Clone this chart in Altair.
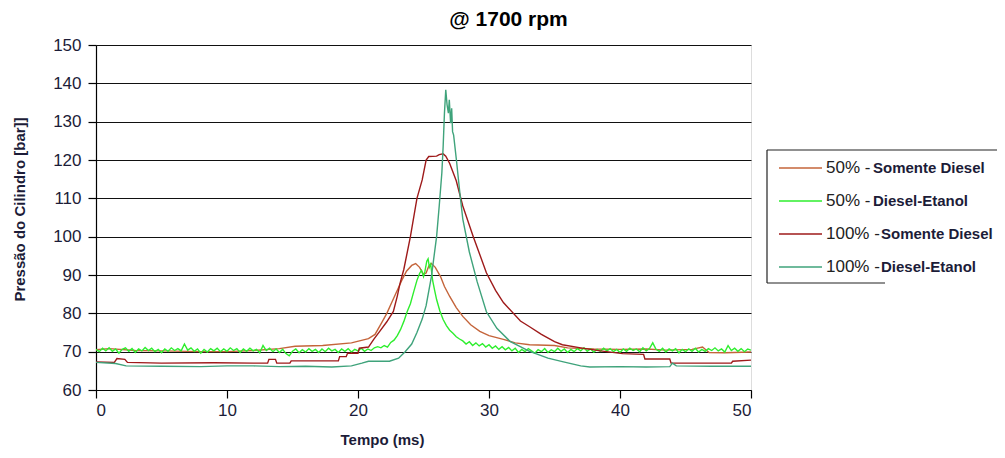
import altair as alt
import pandas as pd

FONT = "Liberation Sans"
TXT = "#1c1c38"

# ---------------- data ----------------
# 50% - Somente Diesel (orange-brown)
sd50_t = [0, 1.0, 3.0, 5.0, 8.0, 10.0, 12.0, 14.0, 15.2, 17.3, 19.5, 20.8, 21.3, 21.8, 22.2,
          22.6, 23.0, 23.4, 23.7, 24.1, 24.4, 24.7, 25.0, 25.2, 25.4, 25.6, 25.9, 26.3, 26.6,
          27.0, 27.5, 28.0, 28.6, 29.3, 30.0, 31.1, 32.0, 33.1, 35.0, 36.0, 38.0, 40.0, 42.0,
          43.5, 45.5, 46.3, 46.8, 48.0, 50.0]
sd50_p = [70.5, 70.8, 70.3, 70.2, 70.0, 70.0, 70.3, 70.8, 71.4, 71.6, 72.3, 73.4, 74.5, 77.5, 80.0,
          83.0, 86.0, 89.0, 91.0, 92.5, 93.0, 92.0, 90.2, 90.5, 92.3, 93.0, 92.0, 89.6, 87.0,
          84.4, 81.5, 79.2, 77.0, 75.3, 74.2, 73.2, 72.3, 71.8, 71.6, 71.0, 70.7, 70.6, 70.7,
          70.4, 70.6, 71.2, 69.8, 69.7, 69.9]

# 50% - Diesel-Etanol (bright green, noisy)
de50_a_start = 0.0
de50_a_step = 0.25
de50_a_p = [70.6,
            70.0, 70.9, 70.2, 71.0, 70.1, 70.7, 69.6, 70.6, 71.0, 70.1, 70.8, 69.8,
            70.7, 70.2, 71.1, 70.3, 70.9, 70.0, 70.6, 69.7, 70.7, 70.1, 71.0, 70.3,
            70.8, 70.2, 72.0, 70.4, 71.0, 70.1, 70.7, 69.6, 70.6, 69.9, 70.8, 70.2,
            70.9, 70.0, 70.7, 70.1, 71.0, 70.3, 70.8, 69.8, 70.7, 70.1, 70.9, 70.2,
            70.6, 69.7, 71.6, 70.3, 70.9, 70.0, 70.7, 69.8, 70.6, 69.5, 68.9, 70.1,
            70.7, 69.7, 70.5, 69.9, 70.8, 70.1, 70.6, 69.8, 70.7, 70.0, 70.9, 70.2,
            70.6, 69.8, 70.7, 70.1, 70.8, 69.9, 70.6, 70.2, 70.9, 70.1, 70.7, 70.3,
            71.0, 71.3]
de50_b_t = [21.75, 22.0, 22.25, 22.5, 22.75, 23.0, 23.25, 23.5, 23.75, 24.0, 24.25, 24.5, 24.7,
            24.85, 25.0, 25.1, 25.25, 25.35, 25.45, 25.55, 25.7, 25.85, 26.0, 26.25, 26.5,
            26.75, 27.0, 27.25, 27.5, 27.75, 28.0]
de50_b_p = [71.0, 71.6, 71.2, 72.4, 73.0, 74.2, 75.8, 77.9, 80.4, 82.5, 85.6, 88.6, 90.4,
            91.2, 89.6, 90.8, 93.6, 94.2, 92.0, 92.8, 88.5, 86.0, 83.6, 80.6, 78.4,
            76.8, 75.6, 74.8, 73.9, 73.3, 72.8]
de50_c_start = 28.25
de50_c_step = 0.25
de50_c_p = [72.0, 72.6, 71.6, 72.3, 71.5, 72.1, 71.2, 71.8, 70.9, 71.5, 70.6, 71.3,
            70.5, 71.1, 70.2, 70.9, 69.8, 70.6, 70.0, 70.8, 70.2, 69.6, 70.5, 70.0,
            70.8, 69.8, 70.5, 70.0, 70.9, 70.1, 70.7, 69.8, 70.6, 70.0, 70.8, 70.2,
            71.0, 70.1, 70.7, 69.9, 70.6, 70.1, 70.9, 70.2, 70.8, 70.0, 70.6, 69.8,
            70.7, 70.1, 70.9, 70.3, 70.7, 70.0, 71.0, 70.2, 70.8, 72.3, 70.6, 70.1,
            70.9, 69.9, 70.7, 70.2, 70.8, 69.7, 70.6, 70.0, 70.7, 70.1, 70.9, 69.9,
            70.6, 70.1, 70.8, 70.3, 71.0, 70.2, 70.7, 69.9, 71.6, 70.3, 70.9, 70.1,
            70.8, 70.0, 70.7, 70.4]

# 100% - Somente Diesel (dark red)
sd100_t = [0, 1.4, 1.6, 2.2, 2.4, 5.0, 9.0, 12.0, 13.1, 13.2, 13.7, 13.8, 14.8, 14.9, 18.5,
           18.6, 19.1, 19.2, 20.0, 20.1, 20.8, 21.2, 21.7, 22.2, 22.7, 23.0, 23.2, 23.5, 24.0,
           24.5, 24.9, 25.2, 25.4, 26.0, 26.2, 26.5, 26.7, 27.0, 27.5, 28.0, 28.8, 29.8, 30.5,
           31.1, 32.4, 33.1, 34.0, 35.0, 35.6, 37.0, 38.5, 40.2, 41.8, 41.9, 43.8, 43.9, 48.5,
           48.6, 50.0]
sd100_p = [67.3, 67.2, 68.2, 68.0, 67.2, 67.0, 67.1, 67.0, 67.0, 68.0, 68.0, 67.0, 67.0, 67.6, 67.6,
           68.7, 68.7, 69.6, 69.6, 70.9, 71.2, 73.2, 75.5, 77.8, 80.5, 84.5, 87.7, 91.5, 100.0,
           110.0, 114.8, 120.0, 120.9, 121.0, 121.4, 121.6, 121.0, 119.1, 114.6, 108.0, 100.0, 90.6, 86.0,
           82.8, 78.0, 76.5, 74.5, 72.6, 71.8, 71.0, 70.2, 69.5, 69.3, 68.1, 68.1, 67.0, 67.0,
           67.5, 67.8]

# 100% - Diesel-Etanol (teal green)
de100_t = [0, 1.5, 2.3, 5.0, 8.0, 10.0, 12.0, 14.0, 16.0, 18.0, 19.5, 20.3, 20.8, 22.4, 23.1,
           23.6, 24.1, 24.5, 24.9, 25.2, 25.6, 26.0, 26.2, 26.4, 26.5, 26.6, 26.7, 26.8, 26.9,
           26.97, 27.07, 27.15, 27.22, 27.3, 27.5, 27.8, 28.0, 28.5, 29.1, 29.8, 30.6, 31.6,
           33.1, 34.5, 35.6, 37.0, 37.7, 40.0, 42.0, 43.8, 44.0, 44.3, 47.0, 50.0]
de100_p = [67.2, 66.9, 66.3, 66.2, 66.1, 66.3, 66.3, 66.1, 66.2, 66.0, 66.3, 67.0, 67.5, 67.5, 68.3,
           70.0, 72.0, 75.0, 78.5, 82.0, 89.5, 100.0, 108.0, 116.6, 123.5, 132.3, 138.3, 134.4, 132.2,
           135.7, 129.6, 133.5, 127.4, 126.5, 120.4, 110.6, 104.6, 96.0, 88.2, 80.4, 76.1, 72.7,
           70.1, 68.3, 67.4, 66.3, 66.0, 66.1, 66.0, 66.1, 67.0, 66.3, 66.2, 66.2]

series_names = ["50% -Somente Diesel", "50% - Diesel-Etanol",
                "100% -Somente Diesel", "100% - Diesel-Etanol"]
legend_pct = ["50% -", "50% -", "100%  -", "100%  -"]
legend_name = ["Somente Diesel", "Diesel-Etanol", "Somente Diesel", "Diesel-Etanol"]
colors = ["#C4643A", "#2EEE2E", "#9E1A1A", "#3FA37B"]

x_ticks = [0, 10, 20, 30, 40, 50]
y_ticks = [60, 70, 80, 90, 100, 110, 120, 130, 140, 150]

# ---------------- build tables ----------------
de50_t = ([de50_a_start + i * de50_a_step for i in range(len(de50_a_p))] + de50_b_t +
          [de50_c_start + i * de50_c_step for i in range(len(de50_c_p))])
de50_p = de50_a_p + de50_b_p + de50_c_p

tables = [
    pd.DataFrame({"t": sd50_t, "p": sd50_p}),
    pd.DataFrame({"t": de50_t, "p": de50_p}),
    pd.DataFrame({"t": sd100_t, "p": sd100_p}),
    pd.DataFrame({"t": de100_t, "p": de100_p}),
]

x_scale = alt.Scale(domain=[0, 50], nice=False, zero=False)
y_scale = alt.Scale(domain=[60, 150], nice=False, zero=False)

x_axis = alt.Axis(values=x_ticks, grid=False, title="Tempo (ms)", titleFont=FONT,
                  titleFontSize=15, titleFontWeight="bold", titleColor=TXT,
                  titleX=286, titleY=49, titleBaseline="middle", titleAlign="center",
                  labelFont=FONT, labelFontSize=17, labelColor=TXT, labelPadding=4,
                  domainColor="black", domainWidth=1.2, tickColor="black", tickSize=8,
                  tickWidth=1.2)
y_axis = alt.Axis(values=y_ticks, grid=True, gridColor="#111111", gridWidth=1.2,
                  title="Pressão do Cilindro [bar]]", titleFont=FONT, titleFontSize=15,
                  titleFontWeight="bold", titleColor=TXT, titleX=-77, titleY=164,
                  titleBaseline="middle", titleAlign="center",
                  labelFont=FONT, labelFontSize=17, labelColor=TXT, labelPadding=7,
                  domainColor="black", domainWidth=1.2, tickColor="black", tickSize=8,
                  tickWidth=1.2)

layers = []
for df, col in zip(tables, colors):
    layers.append(
        alt.Chart(df).mark_line(color=col, strokeWidth=1.4, clip=True).encode(
            x=alt.X("t:Q", scale=x_scale, axis=x_axis),
            y=alt.Y("p:Q", scale=y_scale, axis=y_axis),
        )
    )

# ---------------- manual legend ----------------
leg_df = pd.DataFrame({"row": [0, 1, 2, 3], "series": series_names, "pct": legend_pct,
                       "name": legend_name, "col": colors})
leg_base = alt.Chart(leg_df).transform_calculate(
    ly="123 + datum.row * 33",
    nx="datum.row < 2 ? 777 : 785",
)
leg_lines = leg_base.mark_rule(strokeWidth=1.4).encode(
    x=alt.value(683), x2=alt.value(726),
    y=alt.Y("ly:Q", scale=None, axis=None),
    color=alt.Color("col:N", scale=None, legend=None),
)
leg_pct = leg_base.mark_text(align="left", baseline="middle", font=FONT, fontSize=17,
                             color="#222222").encode(
    x=alt.value(730), y=alt.Y("ly:Q", scale=None, axis=None), text="pct:N")
leg_name = leg_base.mark_text(align="left", baseline="middle", font=FONT, fontSize=15,
                              fontWeight="bold", color=TXT).encode(
    x=alt.X("nx:Q", scale=None, axis=None), y=alt.Y("ly:Q", scale=None, axis=None),
    text="name:N")

one = alt.Data(values=[{}])
frame_top = alt.Chart(one).mark_rule(color="#222222", strokeWidth=1.2).encode(
    x=alt.value(671), x2=alt.value(901), y=alt.value(105))
frame_left = alt.Chart(one).mark_rule(color="#222222", strokeWidth=1.2).encode(
    x=alt.value(671), y=alt.value(105), y2=alt.value(238))
frame_bottom = alt.Chart(one).mark_rule(color="#222222", strokeWidth=1.2).encode(
    x=alt.value(671), x2=alt.value(789), y=alt.value(238))

chart = alt.layer(*layers, leg_lines, leg_pct, leg_name, frame_top, frame_left,
                  frame_bottom).properties(
    width=655, height=345,
    title=alt.TitleParams("@ 1700 rpm", font=FONT, fontSize=21, fontWeight="bold",
                          color="black", anchor="middle", dx=85, offset=6),
    autosize=alt.AutoSizeParams(type="none"),
    padding={"left": 88, "top": 37, "right": 246, "bottom": 60},
).configure_view(strokeWidth=0).configure(background="white")

chart.save("out.html", embed_options={"renderer": "svg", "actions": False})
